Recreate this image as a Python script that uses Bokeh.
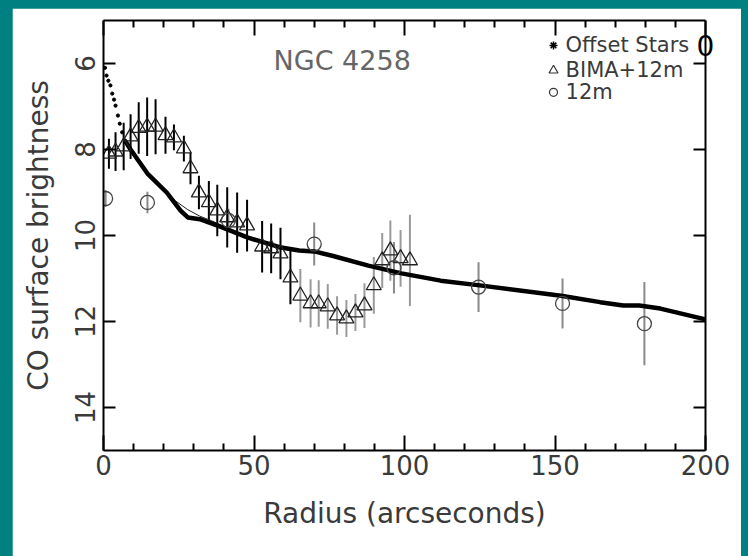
from bokeh.plotting import figure
from bokeh.models import Range1d, LinearAxis, FixedTicker, ColumnDataSource, Label, CustomJSTickFormatter
from bokeh.layouts import column
from bokeh.core.properties import value
from bokeh.embed import file_html
from bokeh.resources import INLINE

# ---------------- data ----------------
# Offset stars (dense profile) - steep start dots
star_r = [0.5, 1.0, 1.6, 2.3, 2.9, 3.5, 4.0, 4.8, 5.4, 6.2, 7.1]
star_b = [6.10, 6.28, 6.40, 6.51, 6.70, 6.84, 6.98, 7.21, 7.40, 7.60, 7.79]

# thick profile line
prof_r = [7.1, 9.0, 14.6, 21.0, 25.6, 28.0, 32.0, 39.0, 48.0, 59.0, 65.0, 70.0, 76.0,
          88.0, 99.0, 112.0, 125.0, 152.0, 165.0, 172.7, 178.0, 185.0, 200.0]
prof_b = [7.79, 8.00, 8.56, 9.00, 9.42, 9.58, 9.62, 9.80, 10.05, 10.28, 10.35, 10.37, 10.47,
          10.70, 10.88, 11.05, 11.16, 11.40, 11.55, 11.63, 11.63, 11.70, 11.95]

# thin smooth model line (visible where it departs from the thick one)
model_r = [18.0, 24.0, 28.0, 32.0, 36.0, 42.0]
model_b = [8.80, 9.20, 9.40, 9.55, 9.66, 9.85]

# BIMA+12m
bima_r = [1.8, 4.0, 6.7, 9.0, 11.7, 14.5, 17.3, 20.6, 23.4, 26.7, 28.9, 31.7, 35.0, 37.8,
          41.1, 44.4, 47.7, 52.7, 55.7, 58.8, 62.1, 65.4, 68.8, 71.5, 74.5, 77.6, 80.7,
          83.7, 86.7, 89.8, 92.6, 95.3, 98.7, 101.8]
bima_b = [8.10, 8.05, 7.93, 7.70, 7.50, 7.47, 7.47, 7.67, 7.72, 7.98, 8.44, 9.00, 9.23, 9.42,
          9.58, 9.70, 9.77, 10.26, 10.30, 10.42, 10.98, 11.40, 11.58, 11.58, 11.65, 11.86, 11.93,
          11.79, 11.63, 11.16, 10.58, 10.35, 10.53, 10.58]
bima_e = [0.35, 0.45, 0.55, 0.52, 0.60, 0.68, 0.64, 0.43, 0.30, 0.30, 0.37, 0.39, 0.50, 0.60,
          0.70, 0.70, 0.60, 0.60, 0.58, 0.60, 0.62, 0.62, 0.56, 0.54, 0.52, 0.45, 0.43,
          0.43, 0.52, 0.66, 0.64, 0.70, 0.66, 1.06]

# 12m
m12_r = [0.7, 14.6, 41.5, 70.0, 96.5, 124.6, 152.5, 179.7]
m12_b = [9.14, 9.23, 9.65, 10.20, 10.75, 11.20, 11.58, 12.05]
m12_e = [0.20, 0.25, 0.27, 0.50, 0.60, 0.58, 0.58, 0.97]

x_ticks = [0, 50, 100, 150, 200]
x_minor = [10, 20, 30, 40, 60, 70, 80, 90, 110, 120, 130, 140, 160, 170, 180, 190]
y_ticks = [6, 8, 10, 12, 14]

legend_labels = ["Offset Stars", "BIMA+12m", "12m"]
title_text = "NGC 4258"

# ---------------- figure ----------------
FONT = value("DejaVu Sans")
TXT = "#3a3a3a"

p = figure(frame_width=602, frame_height=430, output_backend="svg", toolbar_location=None,
           x_range=Range1d(0, 200), y_range=Range1d(15, 5),
           min_border_left=91, min_border_right=36, min_border_top=12, min_border_bottom=106,
           background_fill_color="white", border_fill_color="white")
p.margin = (8, 7, 0, 12)
p.grid.visible = False
p.outline_line_color = None

def style_axis(ax, ticks, minor, tin, minor_in, labels=True):
    ax.ticker = FixedTicker(ticks=ticks, minor_ticks=minor)
    ax.axis_line_width = 2
    ax.axis_line_color = "black"
    ax.major_tick_in = tin
    ax.major_tick_out = 0
    ax.minor_tick_in = minor_in
    ax.minor_tick_out = 0
    ax.major_tick_line_width = 2
    ax.minor_tick_line_width = 2
    ax.major_tick_line_color = "black"
    ax.minor_tick_line_color = "black"
    ax.major_label_text_font = "DejaVu Sans"
    ax.major_label_text_color = TXT
    ax.major_label_text_font_size = "26px"
    if not labels:
        ax.formatter = CustomJSTickFormatter(code="return ''")
        ax.major_label_standoff = 0
    ax.axis_label_text_font = "DejaVu Sans"
    ax.axis_label_text_font_style = "normal"
    ax.axis_label_text_color = TXT
    ax.axis_label_text_font_size = "28px"

xa = p.xaxis[0]
style_axis(xa, x_ticks, x_minor, 15, 7)
xa.axis_label = "Radius (arcseconds)"
xa.major_label_standoff = 4
xa.axis_label_standoff = 19

ya = p.yaxis[0]
style_axis(ya, y_ticks, [], 12, 0)
ya.axis_label = "CO surface brightness"
ya.major_label_orientation = "vertical"
ya.major_label_standoff = 9
ya.axis_label_standoff = 17

top = LinearAxis()
style_axis(top, x_ticks, x_minor, 15, 7, labels=False)
p.add_layout(top, "above")
right = LinearAxis()
style_axis(right, y_ticks, [], 12, 0, labels=False)
p.add_layout(right, "right")

# error bars
bima_src = ColumnDataSource(dict(
    x=bima_r, y=bima_b,
    lo=[b - e for b, e in zip(bima_b, bima_e)],
    hi=[b + e for b, e in zip(bima_b, bima_e)],
    col=["black" if r < 63 else "#9a9a9a" for r in bima_r]))
m12_src = ColumnDataSource(dict(
    x=m12_r, y=m12_b,
    lo=[b - e for b, e in zip(m12_b, m12_e)],
    hi=[b + e for b, e in zip(m12_b, m12_e)]))

p.segment(x0="x", y0="lo", x1="x", y1="hi", source=m12_src, line_color="#8a8a8a", line_width=2)
p.segment(x0="x", y0="lo", x1="x", y1="hi", source=bima_src, line_color="col", line_width=2)

# profile
p.line(model_r, model_b, line_color="#222222", line_width=1)
p.line(prof_r, prof_b, line_color="black", line_width=4.5)
p.scatter(star_r, star_b, marker="circle", size=3.2, color="black")

# markers
p.scatter("x", "y", source=bima_src, marker="triangle", size=15, fill_color=None,
          line_color="#222222", line_width=1.3)
p.scatter("x", "y", source=m12_src, marker="circle", size=14, fill_color=None,
          line_color="#444444", line_width=1.3)

# title text
p.text(x=[56.5], y=[5.93], text=[title_text], text_font=FONT, text_font_size="27px",
       text_color="#666666", text_baseline="middle", text_align="left")

# legend
leg_y = [5.58, 6.16, 6.67]
p.text(x=[153.5] * 3, y=leg_y, text=legend_labels, text_font=FONT, text_font_size="21px",
       text_color=TXT, text_baseline="middle", text_align="left")
p.scatter([149.5], [leg_y[0]], marker="asterisk", size=8, line_color="black", line_width=1.5)
p.scatter([149.5], [leg_y[1]], marker="triangle", size=9, fill_color=None, line_color="#333333", line_width=1.2)
p.scatter([149.5], [leg_y[2]], marker="circle", size=8, fill_color=None, line_color="#333333", line_width=1.2)
p.add_layout(Label(x=200, y=5.58, text="0", text_font="DejaVu Sans", text_font_size="28px",
                   text_color="black", text_baseline="middle", text_align="center"), "right")

layout = column(p, styles={"background-color": "#008080"}, width=748, height=556)
open("out.html", "w").write(file_html(layout, INLINE))
